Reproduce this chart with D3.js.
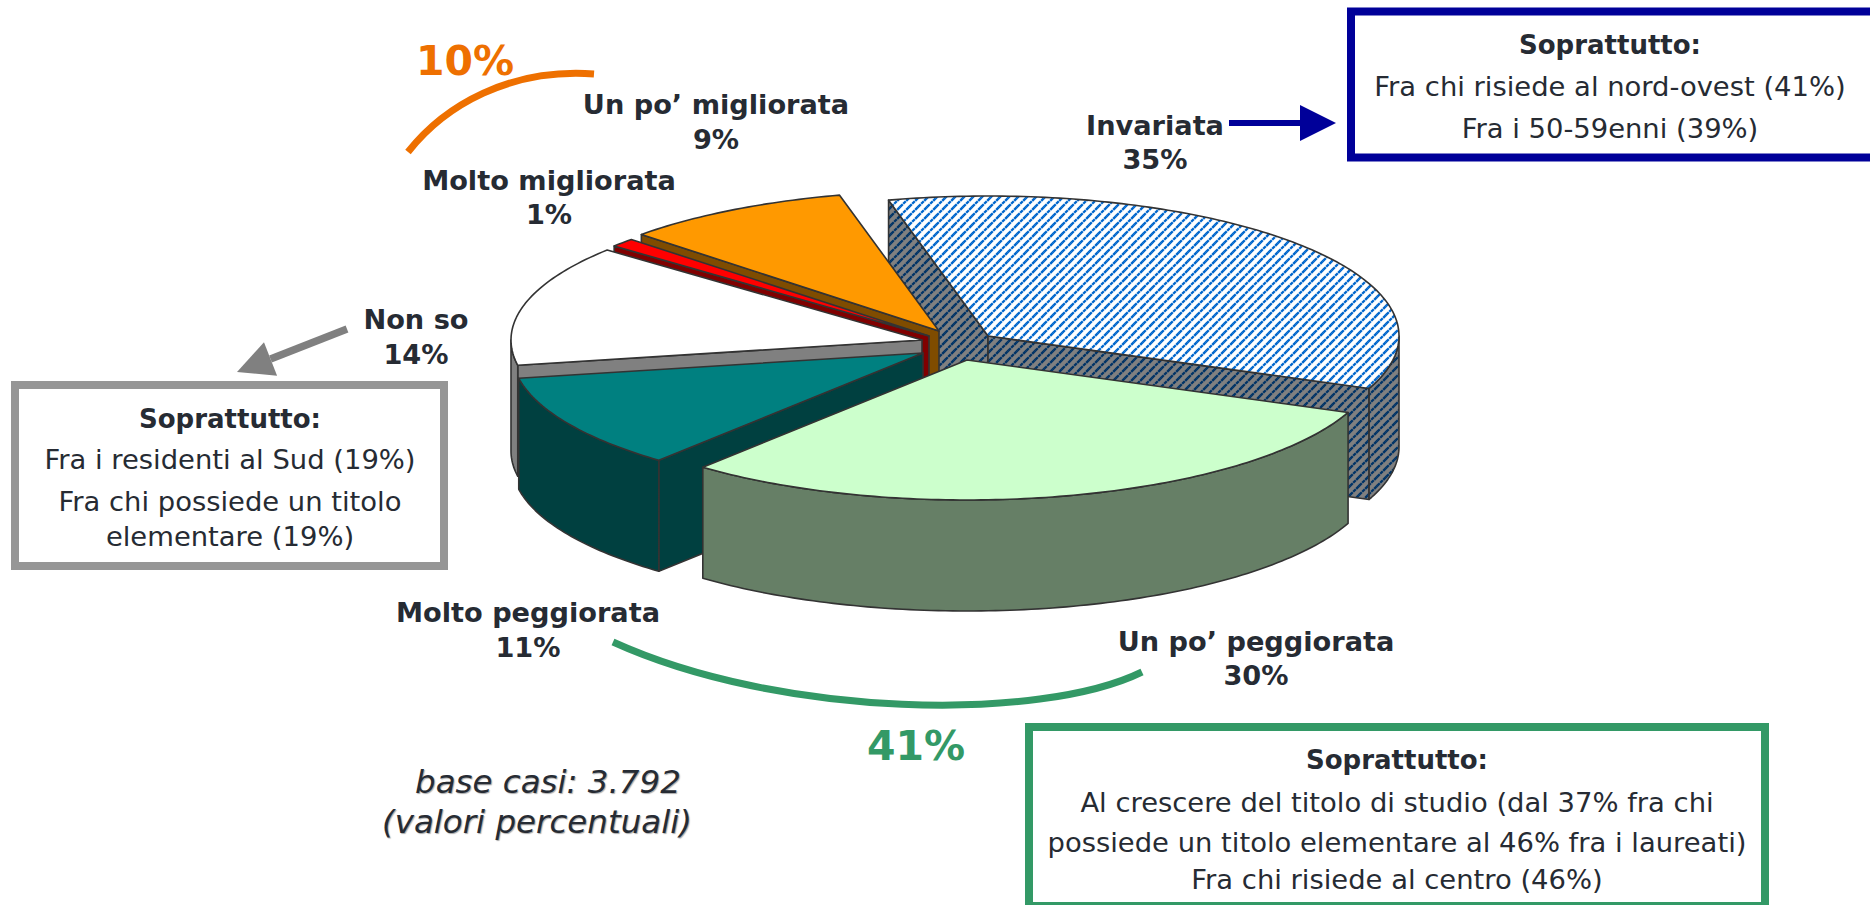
<!DOCTYPE html>
<html><head><meta charset="utf-8">
<script src="https://cdn.jsdelivr.net/npm/d3@7"></script>
<style>
html,body{margin:0;padding:0;background:#fff;overflow:hidden}
svg{display:block}
text{font-family:"DejaVu Sans",sans-serif;fill:#262b33}
</style></head><body>
<svg id="c" width="1870" height="905"></svg>
<script>
const categories=["Invariata","Un po’ peggiorata","Molto peggiorata","Non so","Molto migliorata","Un po’ migliorata"];
const values=[35,30,11,14,1,9];
const percentLabels=["35%","30%","11%","14%","1%","9%"];
const topColors=["url(#hatchTop)","#ccffcc","#008080","#ffffff","#ff0000","#ff9900"];
const wallColors=["url(#hatchWall)","#667f66","#004040","#808080","#800000","#7f4c00"];
const sliceShift=[[59,-4],[38,20],[-6,13],[-7,0],[0,-4],[10,-9]];
const drawOrder=[0,5,4,3,2,1];
const groupTotals=["10%","41%"];

const svg=d3.select("#c");
const defs=svg.append("defs");
function hatch(id,bg,fg,w){
  const s=9;
  const p=defs.append("pattern").attr("id",id).attr("patternUnits","userSpaceOnUse").attr("width",s).attr("height",s);
  p.append("rect").attr("width",s).attr("height",s).attr("fill",bg);
  p.append("path").attr("d",`M0,${s}L${s},0`).attr("stroke",fg).attr("stroke-width",w).attr("stroke-dasharray","3.6 0.64").attr("stroke-dashoffset",-0.32).attr("fill","none");
  p.append("path").attr("d",`M-2,2L2,-2M${s-2},${s+2}L${s+2},${s-2}`).attr("stroke",fg).attr("stroke-width",w).attr("fill","none");
}
hatch("hatchTop","#fff","#0066cc",2.4);
hatch("hatchWall","#808080","#003366",2.4);

const cx=929,cy=340,rx=411,ry=140,depth=111;
const rad=d=>d*Math.PI/180;
const arcs=d3.pie().sort(null).value(d=>d).startAngle(rad(-14)).endAngle(rad(346))(values);
const line=d3.line();
function pt(ax,ay,a,dz=0){return [ax+rx*Math.sin(a),ay-ry*Math.cos(a)+dz];}
function arcPts(ax,ay,a0,a1,dz=0){
  const n=Math.max(2,Math.ceil((a1-a0)/rad(1)));
  return d3.range(n+1).map(i=>pt(ax,ay,a0+(a1-a0)*i/n,dz));
}
function face(g,pts,fill){
  g.append("path").attr("d",line(pts)+"Z").attr("fill",fill).attr("stroke","#333").attr("stroke-width",1.6).attr("stroke-linejoin","round");
}
drawOrder.forEach(i=>{
  const d=arcs[i];
  const g=svg.append("g").attr("class","slice");
  const ax=cx+sliceShift[i][0],ay=cy+sliceShift[i][1];
  const a0=d.startAngle,a1=d.endAngle;
  if(Math.sin(a0)<0){
    const o=pt(ax,ay,a0);
    face(g,[[ax,ay],o,[o[0],o[1]+depth],[ax,ay+depth]],wallColors[i]);
  }
  if(Math.sin(a1)>0){
    const o=pt(ax,ay,a1);
    face(g,[[ax,ay],o,[o[0],o[1]+depth],[ax,ay+depth]],wallColors[i]);
  }
  const lo=Math.max(a0,rad(90)),hi=Math.min(a1,rad(270));
  if(lo<hi){
    const up=arcPts(ax,ay,lo,hi),dn=arcPts(ax,ay,lo,hi,depth).reverse();
    face(g,up.concat(dn),wallColors[i]);
  }
  face(g,[[ax,ay]].concat(arcPts(ax,ay,a0,a1)),topColors[i]);
});

function label(x,y,t,size,weight,fill,anchor){
  const e=svg.append("text").attr("x",x).attr("y",y).attr("font-size",size).attr("font-weight",weight||"normal").attr("text-anchor",anchor||"middle").text(t);
  if(fill)e.style("fill",fill);
  return e;
}
const labelPos=[[1155,135,34],[1256,651,34],[528,622,35],[416,329,35],[549,190,34],[716,114,35]];
categories.forEach((c,i)=>{
  const p=labelPos[i];
  label(p[0],p[1],c,27.2,"bold");
  label(p[0],p[1]+p[2],percentLabels[i],27.2,"bold");
});
label(465,75,groupTotals[0],41,"bold","#ee7000");
label(916,760,groupTotals[1],41,"bold","#339966");

const it=[["base casi: 3.792",415,793],["(valori percentuali)",382,833]];
it.forEach(d=>label(d[1],d[2],d[0],32.5,"normal",null,"start").attr("font-style","italic").style("text-shadow","1px 1px 1px #aaa"));

function box(x,y,w,h,col,lines,tx){
  svg.append("rect").attr("x",x).attr("y",y).attr("width",w).attr("height",h).attr("fill","#fff").attr("stroke",col).attr("stroke-width",8);
  lines.forEach((l,i)=>label(tx,l[1],l[0],i==0?26:27.4,i==0?"bold":"normal"));
}
box(1351,11.5,560,146,"#000099",[["Soprattutto:",54],["Fra chi risiede al nord-ovest (41%)",96],["Fra i 50-59enni (39%)",138]],1610);
box(15,385,429,181,"#969696",[["Soprattutto:",428],["Fra i residenti al Sud (19%)",469],["Fra chi possiede un titolo",511],["elementare (19%)",546]],230);
box(1029,727,736,179,"#339966",[["Soprattutto:",769],["Al crescere del titolo di studio (dal 37% fra chi",812],["possiede un titolo elementare al 46% fra i laureati)",852],["Fra chi risiede al centro (46%)",889]],1397);

function curve(p0,c1,c2,p1,col){
  const q=d3.path();q.moveTo(p0[0],p0[1]);q.bezierCurveTo(c1[0],c1[1],c2[0],c2[1],p1[0],p1[1]);
  svg.append("path").attr("d",q.toString()).attr("fill","none").attr("stroke",col).attr("stroke-width",7);
}
curve([408,152],[445,105],[510,68],[594,74],"#ee7000");
curve([613,642],[780,718],[1040,722],[1142,672],"#339966");

function arrow(p0,p1,col,w,hl,hw){
  const dx=p1[0]-p0[0],dy=p1[1]-p0[1],L=Math.hypot(dx,dy),ux=dx/L,uy=dy/L;
  const b=[p1[0]-ux*hl,p1[1]-uy*hl];
  svg.append("path").attr("d",line([p0,b])).attr("stroke",col).attr("stroke-width",w).attr("fill","none");
  svg.append("path").attr("d",line([p1,[b[0]-uy*hw,b[1]+ux*hw],[b[0]+uy*hw,b[1]-ux*hw]])+"Z").attr("fill",col);
}
arrow([1229,123],[1336,123],"#000099",6,36,18);
arrow([347,329],[237,372],"#808080",7.5,36,18);
</script>
</body></html>
